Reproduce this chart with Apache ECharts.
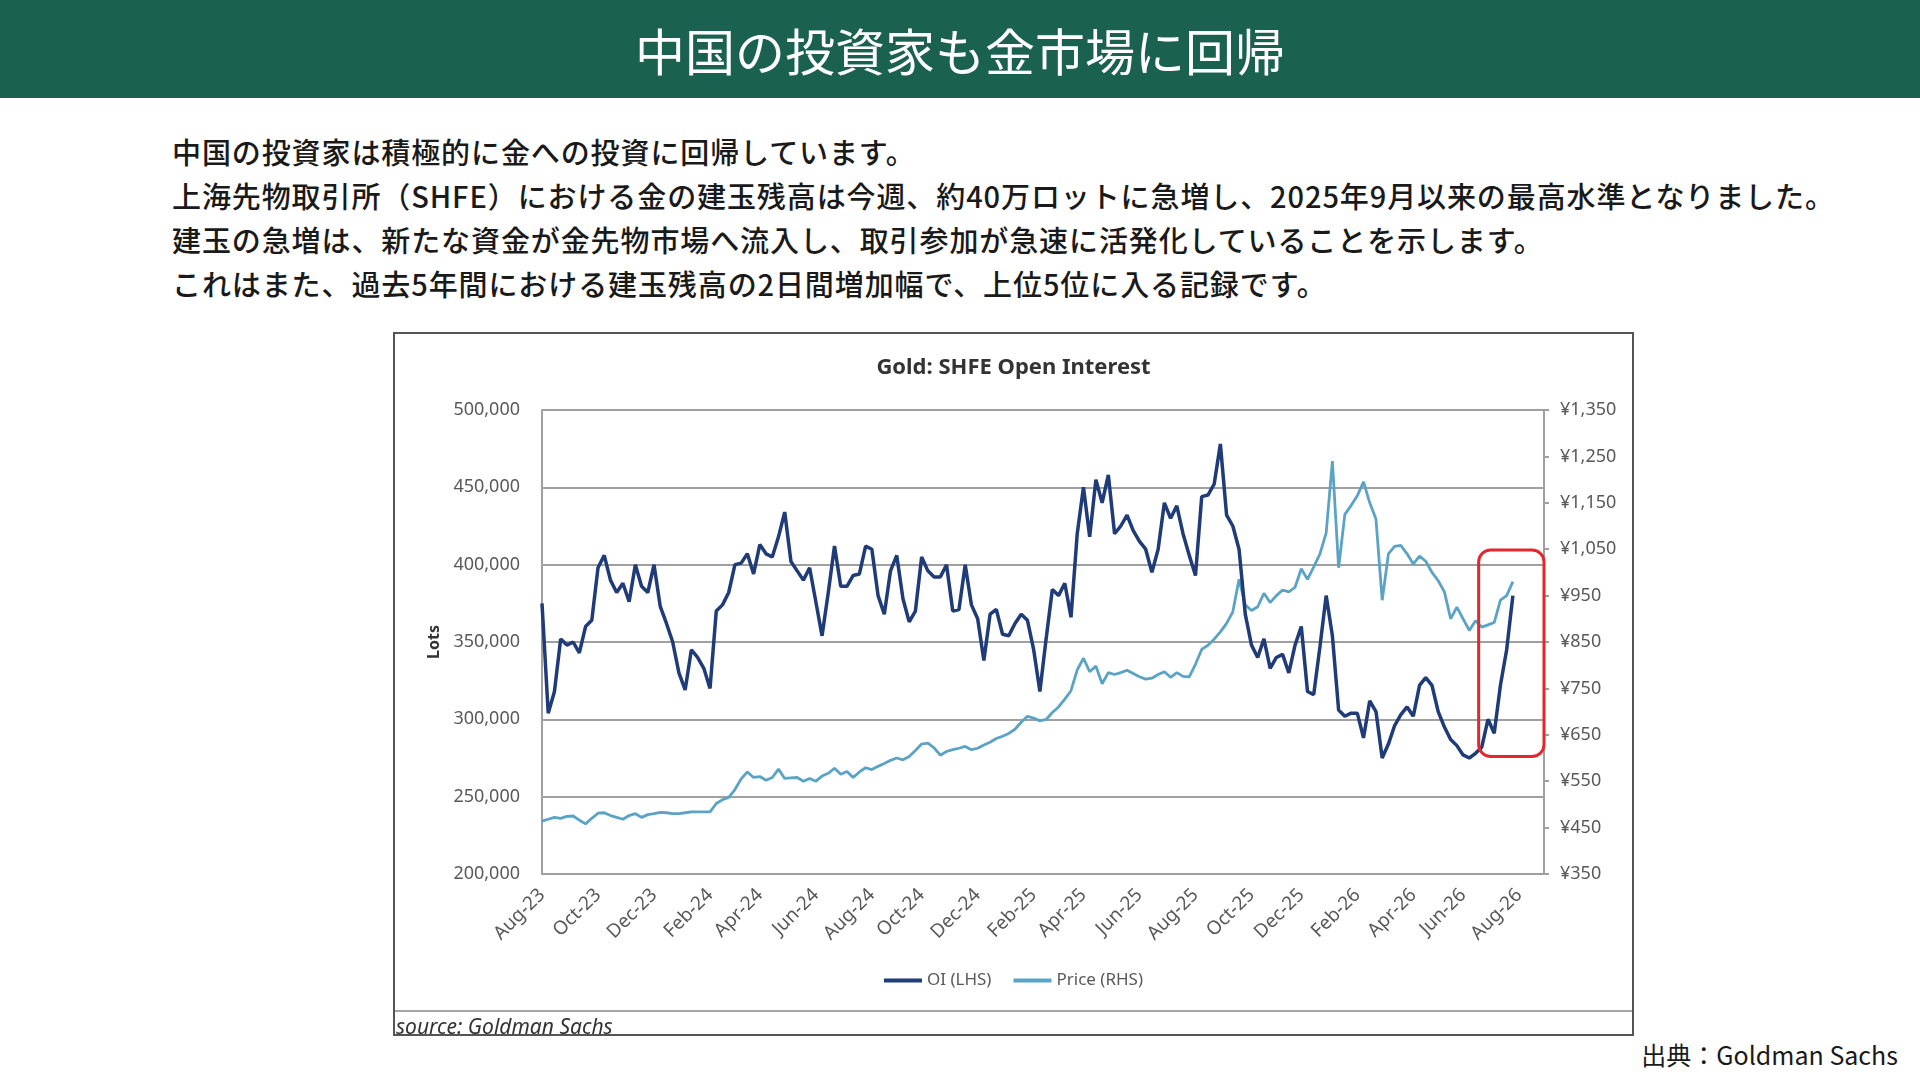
<!DOCTYPE html>
<html lang="ja">
<head>
    <meta charset="UTF-8">
    <title>中国の投資家も金市場に回帰</title>
    <style>
        body { margin: 0; width: 1920px; height: 1080px; background: #fff; position: relative; overflow: hidden;
               font-family: "Noto Sans CJK JP", "Noto Sans", sans-serif; }
        .header { position: absolute; left: 0; top: 0; width: 1920px; height: 98px; background: #1a6150;
                  color: #fff; font-size: 50px; font-weight: 400; line-height: 98px; text-align: center; }
        .lead { position: absolute; left: 172px; top: 129px; font-size: 29px; line-height: 44px;
                letter-spacing: 0.9px; color: #1a1a1a; font-weight: 500; }
        .lead p { margin: 0; }
        .frame { position: absolute; left: 393px; top: 332px; width: 1241px; height: 704px;
                 border: 2px solid #555; box-sizing: border-box; }
        #main { width: 1237px; height: 700px; }
        .credit { position: absolute; right: 22px; top: 1039px; font-size: 25px; line-height: 30px; color: #1a1a1a; }
    </style>
</head>
<body>
<div class="header">中国の投資家も金市場に回帰</div>
<div class="lead">
    <p>中国の投資家は積極的に金への投資に回帰しています。</p>
    <p>上海先物取引所（SHFE）における金の建玉残高は今週、約40万ロットに急増し、2025年9月以来の最高水準となりました。</p>
    <p>建玉の急増は、新たな資金が金先物市場へ流入し、取引参加が急速に活発化していることを示します。</p>
    <p>これはまた、過去5年間における建玉残高の2日間増加幅で、上位5位に入る記録です。</p>
</div>
<div class="frame"><div id="main"></div></div>
<div class="credit">出典：Goldman Sachs</div>

<script src="https://cdn.jsdelivr.net/npm/echarts/dist/echarts.min.js"></script>
<script>
    // weekly points from 1 Aug 2023, axis runs to end of Aug 2026
    var startDate = Date.UTC(2023, 7, 1);
    var weekCount = 162;
    var monthNames = ['Jan', 'Feb', 'Mar', 'Apr', 'May', 'Jun', 'Jul', 'Aug', 'Sep', 'Oct', 'Nov', 'Dec'];

    // open interest, thousand lots (LHS)
    var oiThousand = [
        375, 304, 318, 352, 348, 350, 343, 360, 364, 398, 406, 390, 382, 388, 376, 400,
        386, 382, 400, 373, 362, 350, 330, 319, 345, 340, 333, 320, 370, 374, 382, 400,
        401, 407, 394, 413, 407, 405, 418, 434, 402, 396, 390, 398, 376, 354, 382, 412,
        386, 386, 393, 394, 412, 410, 380, 368, 396, 406, 378, 363, 370, 405, 396, 392,
        392, 400, 370, 371, 400, 374, 365, 338, 368, 371, 355, 354, 362, 368, 364, 345,
        318, 352, 384, 380, 388, 366, 420, 450, 418, 455, 440, 458, 420, 425, 432, 422,
        415, 410, 395, 410, 440, 430, 438, 420, 406, 393, 444, 445, 452, 478, 432, 425,
        410, 368, 348, 340, 352, 333, 340, 342, 330, 348, 360, 318, 316, 347, 380, 354,
        306, 302, 304, 304, 288, 312, 305, 275, 284, 296, 303, 308, 302, 322, 327, 322,
        305, 295, 287, 283, 277, 275, 278, 282, 300, 291, 322, 345, 380
    ];

    // gold price, yuan per gram (RHS)
    var price = [
        464, 468, 472, 470, 474, 475, 466, 458, 470, 481, 482, 476, 472, 468, 476, 480,
        472, 478, 480, 483, 482, 480, 480, 482, 484, 484, 484, 484, 502, 510, 515, 532,
        555, 570, 558, 560, 552, 558, 576, 556, 557, 558, 550, 556, 550, 561, 567, 578,
        565, 571, 558, 570, 579, 575, 582, 588, 595, 600, 596, 603, 616, 630, 632, 622,
        606, 614, 618, 621, 625, 618, 621, 628, 634, 642, 647, 653, 662, 677, 690, 686,
        680, 683, 698, 710, 727, 745, 790, 815, 786, 798, 760, 784, 780, 784, 789, 782,
        775, 770, 772, 780, 786, 774, 784, 776, 775, 802, 834, 843, 856, 872, 890, 915,
        985, 930, 918, 926, 955, 935, 950, 962, 958, 968, 1008, 985, 1012, 1040, 1085, 1240,
        1010, 1125, 1144, 1165, 1195, 1150, 1115, 940, 1040, 1056, 1058, 1040, 1018, 1035, 1024, 1000,
        982, 958, 900, 925, 900, 875, 896, 882, 887, 892, 940, 950, 980
    ];

    var oiTicks = [200000, 500000, 50000];
    var priceTicks = [350, 1350, 100];

    // highlighted recent surge: week index range and OI range
    var surgeWeeks = [150.5, 161];
    var surgeLots = [409500, 276000];

    var categories = [];
    for (var i = 0; i < weekCount; i++) {
        categories.push(new Date(startDate + i * 7 * 86400000).toISOString().slice(0, 10));
    }
    var oiLots = oiThousand.map(function (v) { return v * 1000; });

    function isLabelWeek(value) {
        var d = new Date(value + 'T00:00:00Z');
        return d.getUTCDate() <= 7 && d.getUTCMonth() % 2 === 1;
    }

    var myChart = echarts.init(document.getElementById('main'));

    var option = {
        backgroundColor: '#fff',
        textStyle: { fontFamily: 'Noto Sans' },
        title: {
            text: 'Gold: SHFE Open Interest',
            left: 'center',
            top: 18,
            textStyle: { fontSize: 22, fontWeight: 'bold', color: '#333', fontFamily: 'Noto Sans' }
        },
        legend: {
            top: 633,
            left: 'center',
            icon: 'rect',
            itemWidth: 38,
            itemHeight: 4,
            itemGap: 22,
            data: ['OI (LHS)', 'Price (RHS)'],
            textStyle: { color: '#595959', fontSize: 17 }
        },
        grid: { left: 147, top: 76, width: 1002, height: 464 },
        xAxis: {
            type: 'category',
            boundaryGap: false,
            data: categories,
            axisLine: { lineStyle: { color: '#a0a0a0', width: 2 } },
            axisTick: { show: false },
            axisLabel: {
                interval: function (index, value) { return isLabelWeek(value); },
                rotate: 45,
                margin: 18,
                color: '#595959',
                fontSize: 19,
                formatter: function (value) {
                    var d = new Date(value + 'T00:00:00Z');
                    return monthNames[d.getUTCMonth()] + '-' + String(d.getUTCFullYear()).slice(2);
                }
            },
            splitLine: { show: false }
        },
        yAxis: [
            {
                type: 'value',
                min: oiTicks[0],
                max: oiTicks[1],
                interval: oiTicks[2],
                name: 'Lots',
                nameLocation: 'middle',
                nameGap: 100,
                nameRotate: 90,
                nameTextStyle: { fontSize: 16, fontWeight: 'bold', color: '#333' },
                axisLine: { show: true, lineStyle: { color: '#a0a0a0', width: 2 } },
                axisTick: { show: false },
                axisLabel: {
                    margin: 22,
                    color: '#595959',
                    fontSize: 18,
                    formatter: function (v) { return v.toLocaleString('en-US'); }
                },
                splitLine: { lineStyle: { color: '#a0a0a0', width: 2 } }
            },
            {
                type: 'value',
                min: priceTicks[0],
                max: priceTicks[1],
                interval: priceTicks[2],
                position: 'right',
                axisLine: { show: true, lineStyle: { color: '#a0a0a0', width: 2 } },
                axisTick: { show: true, length: 5, lineStyle: { color: '#a0a0a0', width: 2 } },
                axisLabel: {
                    margin: 16,
                    color: '#595959',
                    fontSize: 18,
                    formatter: function (v) { return '¥' + v.toLocaleString('en-US'); }
                },
                splitLine: { show: false }
            }
        ],
        series: [
            {
                name: 'OI (LHS)',
                type: 'line',
                yAxisIndex: 0,
                data: oiLots,
                symbol: 'none',
                z: 3,
                itemStyle: { color: '#1f3b78' },
                lineStyle: { color: '#1f3b78', width: 3.5 }
            },
            {
                name: 'Price (RHS)',
                type: 'line',
                yAxisIndex: 1,
                data: price,
                symbol: 'none',
                z: 2,
                itemStyle: { color: '#5aa3c5' },
                lineStyle: { color: '#5aa3c5', width: 2.8 }
            }
        ]
    };

    myChart.setOption(option);

    // red box around the latest surge, placed from data values
    function px(weekIdx, lots) {
        var lo = Math.floor(weekIdx), hi = Math.ceil(weekIdx);
        var a = myChart.convertToPixel({ xAxisIndex: 0, yAxisIndex: 0 }, [lo, lots]);
        var b = myChart.convertToPixel({ xAxisIndex: 0, yAxisIndex: 0 }, [hi, lots]);
        var t = weekIdx - lo;
        return [a[0] + (b[0] - a[0]) * t, a[1]];
    }
    var p1 = px(surgeWeeks[0], surgeLots[0]);
    var p2 = px(surgeWeeks[1], surgeLots[1]);

    myChart.setOption({
        graphic: [
            {
                type: 'rect',
                z: 10,
                shape: { x: p1[0], y: p1[1], width: p2[0] - p1[0], height: p2[1] - p1[1], r: 12 },
                style: { fill: 'none', stroke: '#e5262d', lineWidth: 3 }
            },
            {
                type: 'line',
                shape: { x1: 0, y1: 677, x2: 1237, y2: 677 },
                style: { stroke: '#a6a6a6', lineWidth: 2 }
            },
            {
                type: 'text',
                left: 1,
                top: 684,
                style: { text: 'source: Goldman Sachs', font: 'italic 21px "Noto Sans"', fill: '#333' }
            }
        ]
    });
</script>
</body>
</html>
